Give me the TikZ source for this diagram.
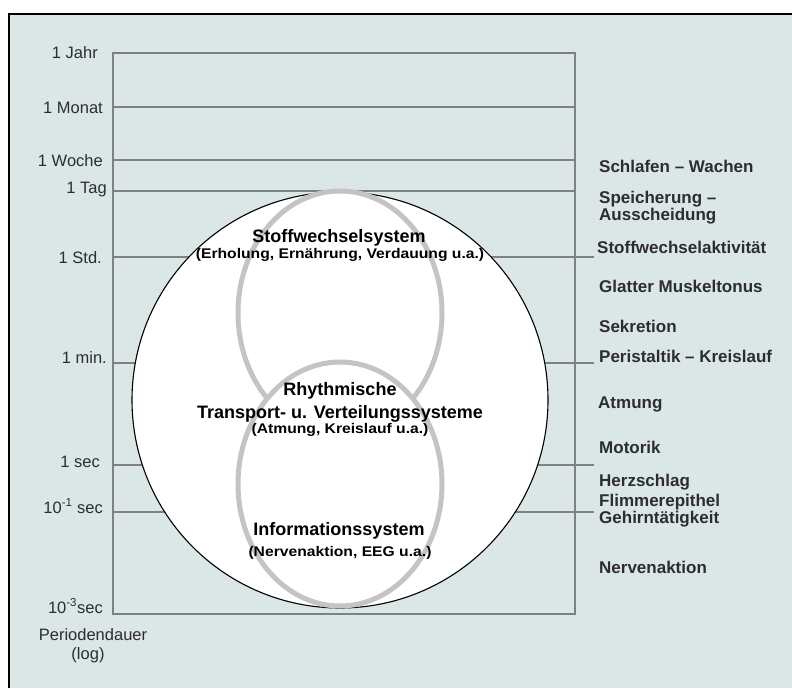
\documentclass[tikz,border=0pt]{standalone}
\usepackage{fontspec}
\setmainfont{Liberation Sans}
\newfontfamily\notefont{Liberation Sans}[FakeStretch=1.12]
\definecolor{bgfill}{RGB}{218,231,230}
\definecolor{gridgray}{RGB}{128,128,128}
\definecolor{ringgray}{RGB}{196,196,196}
\definecolor{labelgray}{RGB}{45,45,45}
\tikzset{
  grid line/.style={draw=gridgray, line width=2.4pt},
  ring/.style={draw=ringgray, line width=5pt},
  scale label/.style={anchor=base east, inner sep=0pt, text=labelgray, font=\fontsize{16.5}{18}\selectfont},
  rhythm label/.style={anchor=base west, inner sep=0pt, text=labelgray, align=left, font=\fontsize{17}{17}\bfseries\selectfont},
  system title/.style={anchor=base, inner sep=0pt, font=\fontsize{18}{19}\bfseries\selectfont},
  system note/.style={anchor=base, inner sep=0pt, font=\notefont\fontsize{14}{15}\bfseries\selectfont}
}
\begin{document}
\begin{tikzpicture}[x=1pt, y=-1pt]
\useasboundingbox (0,0) rectangle (792,688);
\fill[bgfill] (9,14) rectangle (792,688);
\draw[line width=1.5pt] (9,688) -- (9,14) -- (792,14);

\coordinate (A_jahr) at (113,53);
\coordinate (B_jahr) at (575,53);
\coordinate (A_monat) at (113,107);
\coordinate (B_monat) at (575,107);
\coordinate (A_woche) at (113,160);
\coordinate (B_woche) at (575,160);
\coordinate (A_tag) at (113,191);
\coordinate (B_tag) at (575,191);
\coordinate (A_std) at (113,257);
\coordinate (B_std) at (594,257);
\coordinate (A_min) at (113,363);
\coordinate (B_min) at (594,363);
\coordinate (A_sec) at (113,465);
\coordinate (B_sec) at (594,465);
\coordinate (A_dsec) at (113,512);
\coordinate (B_dsec) at (594,512);
\coordinate (A_msec) at (113,614);
\coordinate (B_msec) at (575,614);

\draw[grid line] (A_jahr) rectangle (B_msec);
\draw[grid line] (A_monat) -- (B_monat);
\draw[grid line] (A_woche) -- (B_woche);
\draw[grid line] (A_tag) -- (B_tag);
\draw[grid line] (A_std) -- (B_std);
\draw[grid line] (A_min) -- (B_min);
\draw[grid line] (A_sec) -- (B_sec);
\draw[grid line] (A_dsec) -- (B_dsec);

\draw[fill=white, line width=1.1pt] (340,400) circle[radius=208];
\draw[ring] (340,313) ellipse[x radius=102, y radius=122];
\draw[ring, fill=white] (340,484) ellipse[x radius=102, y radius=122];

\node[scale label] (L_jahr) at (98,58) {1 Jahr};
\node[scale label] (L_monat) at (103,113) {1 Monat};
\node[scale label] (L_woche) at (103,166) {1 Woche};
\node[scale label] (L_tag) at (107,193) {1 Tag};
\node[scale label] (L_std) at (102,263) {1 Std.};
\node[scale label] (L_min) at (107,363) {1 min.};
\node[scale label] (L_sec) at (100,467) {1 sec};
\node[scale label] (L_dsec) at (103,513) {10\textsuperscript{-1} sec};
\node[scale label] (L_msec) at (103,613) {10\textsuperscript{-3}sec};
\node[scale label, anchor=base] (L_dauer) at (93,640) {Periodendauer};
\node[scale label, anchor=base] (L_log) at (88,659) {(log)};

\node[rhythm label] (R_schlaf) at (599,172) {Schlafen – Wachen};
\node[rhythm label] (R_speicher) at (599,220) {Speicherung –\\Ausscheidung};
\node[rhythm label] (R_stoff) at (597,253) {Stoffwechselaktivität};
\node[rhythm label] (R_muskel) at (599,292) {Glatter Muskeltonus};
\node[rhythm label] (R_sekret) at (599,332) {Sekretion};
\node[rhythm label] (R_peri) at (599,362) {Peristaltik – Kreislauf};
\node[rhythm label] (R_atmung) at (598,408) {Atmung};
\node[rhythm label] (R_motorik) at (599,453) {Motorik};
\node[rhythm label] (R_herz) at (599,486) {Herzschlag};
\node[rhythm label, font=\fontsize{17}{15}\bfseries\selectfont] (R_flimmer) at (599,523) {Flimmerepithel\\Gehirntätigkeit};
\node[rhythm label] (R_nerven) at (599,573) {Nervenaktion};

\node[system title] (S_stoff) at (339,242) {Stoffwechselsystem};
\node[system note] (N_stoff) at (340,258) {(Erholung, Ernährung, Verdauung u.a.)};
\node[system title] (S_rhythm) at (340,395) {Rhythmische};
\node[system title] (S_transport) at (340,418) {Transport- u. Verteilungssysteme};
\node[system note] (N_rhythm) at (340,433) {(Atmung, Kreislauf u.a.)};
\node[system title] (S_info) at (339,535) {Informationssystem};
\node[system note] (N_info) at (340,556) {(Nervenaktion, EEG u.a.)};
\end{tikzpicture}
\end{document}
